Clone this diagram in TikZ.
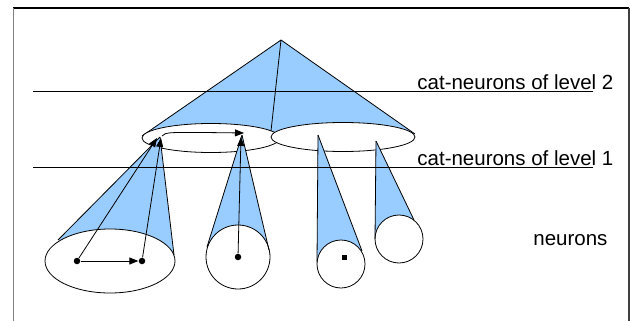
\documentclass[tikz,border=0pt]{standalone}
\usepackage{fontspec}
\setmainfont{Liberation Sans}
\usetikzlibrary{arrows.meta,shapes.geometric}
\definecolor{fanblue}{HTML}{99CCFF}
\begin{document}
\begin{tikzpicture}[x=1pt,y=-1pt,line width=0.8pt,line join=round,
  fanfill/.style={fill=fanblue},
  cell/.style={ellipse,fill=white,draw=black,inner sep=0pt},
  link/.style={-{Triangle[length=9pt,width=7pt]}},
  lbl/.style={anchor=base west,font=\fontsize{20.5}{22}\selectfont,inner sep=0pt},
  dot/.style={circle,fill=black,inner sep=0pt,minimum size=6.5pt},
  sqdot/.style={rectangle,fill=black,inner sep=0pt,minimum size=5pt}]
\useasboundingbox (0,0) rectangle (631,321);
% frame
\draw[black,line width=1.2pt] (13,8) -- (629,8);
\draw[gray,line width=1pt] (13,8) -- (13,321);
\draw[darkgray,line width=1.6pt] (629,8) -- (629,321);
% coordinates
\coordinate (top) at (281,40);
\coordinate (fanL) at (142,136);
\coordinate (fanR) at (415,134);
\coordinate (fanM) at (271,131);
\coordinate (a1) at (160,137);
\coordinate (a2) at (242,135);
\coordinate (a3) at (318,135);
\coordinate (a4) at (376,141);
\coordinate (t1l) at (58,240);
\coordinate (t1r) at (174,255);
\coordinate (t2l) at (207,247);
\coordinate (t2r) at (269,250);
\coordinate (t3l) at (317,262);
\coordinate (t3r) at (362,251);
\coordinate (t4l) at (375,239);
\coordinate (t4r) at (414,220);
% level-2 fan
\fill[fanfill] (top) -- (fanL) -- (fanR) -- cycle;
\draw (top) -- (fanL);
\draw (top) -- (fanR);
% cat-neurons of level 1
\node[cell,minimum width=138pt,minimum height=29pt] (e1) at (211,138) {};
\node[cell,minimum width=144pt,minimum height=29pt] (e2) at (343,137) {};
\draw (top) -- (fanM);
% cones
\fill[fanfill] (a1) -- (t1l) -- (t1r) -- cycle;
\fill[fanfill] (a2) -- (t2l) -- (t2r) -- cycle;
\fill[fanfill] (a3) -- (t3l) -- (t3r) -- cycle;
\fill[fanfill] (a4) -- (t4l) -- (t4r) -- cycle;
% neurons
\node[cell,minimum width=130pt,minimum height=64pt] (n1) at (110,261) {};
\node[cell,minimum width=64pt,minimum height=64pt] (n2) at (238,257) {};
\node[cell,minimum width=48pt,minimum height=48pt] (n3) at (341,264) {};
\node[cell,minimum width=48pt,minimum height=48pt] (n4) at (399,239) {};
% cone edges
\draw (a1) -- (t1l); \draw (a1) -- (t1r);
\draw (a2) -- (t2l); \draw (a2) -- (t2r);
\draw (a3) -- (t3l); \draw (a3) -- (t3r);
\draw (a4) -- (t4l); \draw (a4) -- (t4r);
% dots
\node[dot] (d1) at (77,261) {};
\node[dot] (d2) at (142,261) {};
\node[dot] (d3) at (238,257) {};
\node[sqdot] (d4) at (344,257) {};
\coordinate (h1) at (157,138);
\coordinate (h2) at (161,138);
\coordinate (h3) at (241,137);
\coordinate (s1) at (162,136);
\coordinate (h4) at (244,133);
% arrows
\draw[link] (d1) -- (d2);
\draw[link] (d1) -- (h1);
\draw[link] (d2) -- (h2);
\draw[link] (d3) -- (h3);
\draw[link] (s1) .. controls (166,132) .. (h4);
% level lines
\coordinate (l2a) at (33,91); \coordinate (l2b) at (593,91);
\coordinate (l1a) at (33,167); \coordinate (l1b) at (593,167);
\draw[line width=0.7pt] (l2a) -- (l2b);
\draw[line width=0.7pt] (l1a) -- (l1b);
% labels
\node[lbl] (lab2) at (417,89) {cat-neurons of level 2};
\node[lbl] (lab1) at (417,165) {cat-neurons of level 1};
\node[lbl] (lab0) at (533,245) {neurons};
\end{tikzpicture}
\end{document}
